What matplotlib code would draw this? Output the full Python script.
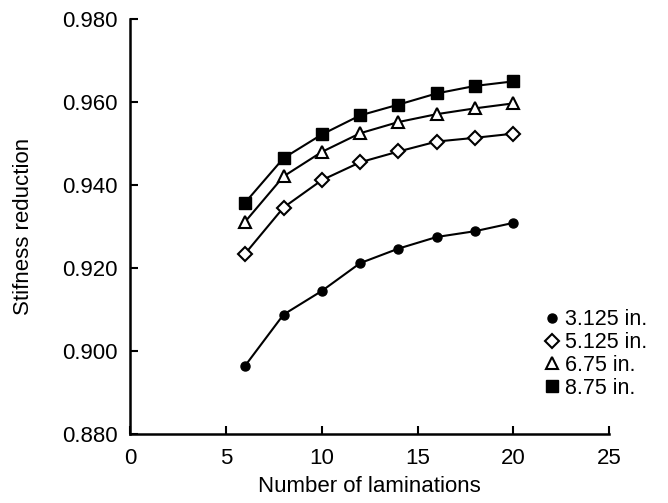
import matplotlib
matplotlib.use("Agg")
import matplotlib.pyplot as plt
from matplotlib.ticker import FormatStrFormatter

plt.rcParams['font.family'] = ['Liberation Sans', 'DejaVu Sans']

# laminations count and stiffness reduction for each lamination thickness
laminations = [6, 8, 10, 12, 14, 16, 18, 20]
thick_3125 = [0.8965, 0.9088, 0.9145, 0.9212, 0.9247, 0.9275, 0.9289, 0.9309]
thick_5125 = [0.9235, 0.9346, 0.9412, 0.9455, 0.9481, 0.9505, 0.9514, 0.9524]
thick_675 = [0.9312, 0.9421, 0.9480, 0.9525, 0.9552, 0.9571, 0.9585, 0.9597]
thick_875 = [0.9358, 0.9465, 0.9522, 0.9568, 0.9594, 0.9621, 0.9639, 0.9650]
labels = ["3.125 in.", "5.125 in.", "6.75 in.", "8.75 in."]

fig = plt.figure(figsize=(6.68, 5.03), dpi=100)
ax = fig.add_axes([0.195, 0.137, 0.717, 0.825])

ax.plot(laminations, thick_3125, '-o', color='black', lw=1.5, ms=6.5,
        mfc='black', label=labels[0])
ax.plot(laminations, thick_5125, '-D', color='black', lw=1.5, ms=7.5,
        mfc='white', mew=1.5, label=labels[1])
ax.plot(laminations, thick_675, '-^', color='black', lw=1.5, ms=8.5,
        mfc='white', mew=1.5, label=labels[2])
ax.plot(laminations, thick_875, '-s', color='black', lw=1.5, ms=8,
        mfc='black', label=labels[3])

ax.set_xlim(0, 25)
ax.set_ylim(0.880, 0.980)
ax.set_xticks([0, 5, 10, 15, 20, 25])
ax.set_yticks([0.880, 0.900, 0.920, 0.940, 0.960, 0.980])
ax.yaxis.set_major_formatter(FormatStrFormatter('%.3f'))

ax.spines['top'].set_visible(False)
ax.spines['right'].set_visible(False)
ax.spines['left'].set_linewidth(1.8)
ax.spines['bottom'].set_linewidth(1.8)
ax.tick_params(direction='in', length=6, width=1.5, labelsize=16)
ax.tick_params(axis='x', pad=10)
ax.tick_params(axis='y', pad=9)

ax.set_xlabel("Number of laminations", fontsize=16, labelpad=5)
ax.set_ylabel("Stifness reduction", fontsize=16, labelpad=20)

ax.legend(loc='upper left', bbox_to_anchor=(0.815, 0.385),
          bbox_transform=fig.transFigure, frameon=False, fontsize=15.5,
          handlelength=0.7, handletextpad=0.25, labelspacing=0.08,
          borderpad=0, borderaxespad=0)
for line in ax.get_legend().get_lines():
    line.set_linestyle('none')

plt.savefig("out.png", dpi=100)
